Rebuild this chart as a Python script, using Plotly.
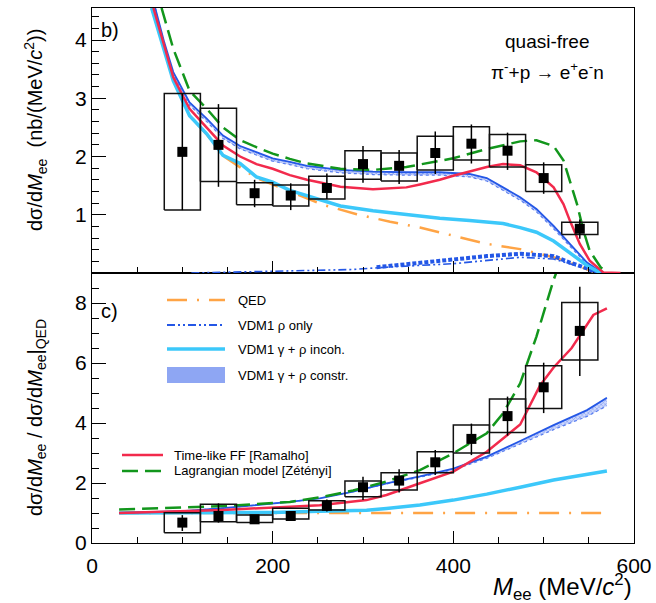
import plotly.graph_objects as go

# ---------------- data ----------------
bin_edges = [80, 120, 160, 200, 240, 280, 320, 360, 400, 440, 480, 520, 560]
centers = [100, 140, 180, 220, 260, 300, 340, 380, 420, 460, 500, 540]

# panel b) cross section (nb/(MeV/c2))
top_val = [2.08, 2.20, 1.37, 1.33, 1.46, 1.87, 1.84, 2.06, 2.22, 2.10, 1.63, 0.76]
top_err_hi = [3.08, 2.90, 1.60, 1.54, 1.71, 2.18, 2.11, 2.43, 2.55, 2.41, 1.90, 0.92]
top_err_lo = [1.08, 1.48, 1.13, 1.08, 1.27, 1.55, 1.53, 1.70, 1.88, 1.77, 1.36, 0.59]
top_box_hi = [3.08, 2.83, 1.55, 1.51, 1.66, 2.10, 2.06, 2.35, 2.51, 2.38, 1.86, 0.87]
top_box_lo = [1.08, 1.57, 1.17, 1.15, 1.27, 1.61, 1.58, 1.77, 1.94, 1.82, 1.40, 0.66]

# panel c) ratio to QED
rat_val = [0.68, 0.90, 0.79, 0.90, 1.24, 1.86, 2.08, 2.69, 3.47, 4.23, 5.19, 7.07]
rat_err_hi = [0.93, 1.32, 0.90, 0.98, 1.45, 2.21, 2.46, 3.10, 3.98, 4.88, 6.01, 8.54]
rat_err_lo = [0.40, 0.68, 0.66, 0.80, 1.05, 1.43, 1.68, 2.27, 2.93, 3.58, 4.33, 5.57]
rat_box_hi = [1.01, 1.29, 0.93, 1.16, 1.41, 2.07, 2.34, 3.04, 3.93, 4.80, 5.91, 8.02]
rat_box_lo = [0.34, 0.71, 0.68, 0.80, 1.10, 1.54, 1.77, 2.34, 3.00, 3.68, 4.48, 6.10]

# model curves, panel b)
qed_x = [66, 80, 90, 108, 127, 145, 182, 219, 256, 293, 330, 363, 400, 437, 474, 511, 529, 548, 555]
qed_y = [4.55, 3.85, 3.30, 2.70, 2.38, 2.01, 1.63, 1.40, 1.17, 1.01, 0.88, 0.78, 0.64, 0.50, 0.41, 0.27, 0.18, 0.07, 0.02]

rho_x = [110, 180, 252, 289, 326, 400, 474, 511, 548, 560]
rho_y = [0.00, 0.02, 0.05, 0.06, 0.10, 0.16, 0.27, 0.24, 0.07, 0.00]
rhob_x = [315, 363, 400, 437, 474, 511, 529, 548, 559]
rhob_y = [0.10, 0.18, 0.24, 0.29, 0.33, 0.29, 0.18, 0.08, 0.00]

inc_x = [66, 80, 90, 108, 127, 145, 164, 182, 200, 219, 238, 275, 311, 348, 385, 418, 455, 474, 492, 511, 529, 548, 563]
inc_y = [4.55, 3.85, 3.30, 2.70, 2.39, 2.02, 1.88, 1.65, 1.56, 1.42, 1.33, 1.15, 1.07, 1.00, 0.94, 0.90, 0.85, 0.78, 0.70, 0.55, 0.35, 0.13, 0.00]

con_x = [70, 80, 90, 108, 127, 145, 164, 182, 200, 219, 238, 275, 311, 348, 385, 418, 437, 455, 474, 492, 511, 529, 548, 565]
con_y = [4.55, 3.96, 3.45, 2.93, 2.65, 2.36, 2.18, 2.08, 1.97, 1.91, 1.84, 1.77, 1.74, 1.73, 1.73, 1.70, 1.63, 1.47, 1.30, 1.10, 0.81, 0.50, 0.18, 0.00]
con_w = [0.00, 0.04, 0.05, 0.05, 0.05, 0.05, 0.05, 0.05, 0.05, 0.05, 0.05, 0.05, 0.05, 0.05, 0.05, 0.05, 0.05, 0.05, 0.05, 0.05, 0.05, 0.04, 0.03, 0.00]

ram_x = [68, 80, 90, 108, 127, 145, 164, 182, 200, 219, 238, 275, 311, 348, 363, 385, 400, 437, 455, 474, 492, 511, 522, 529, 540, 551, 566, 585]
ram_y = [4.55, 3.90, 3.36, 2.82, 2.50, 2.19, 2.00, 1.87, 1.79, 1.68, 1.60, 1.48, 1.44, 1.47, 1.52, 1.60, 1.67, 1.82, 1.87, 1.85, 1.73, 1.47, 1.18, 0.90, 0.50, 0.21, 0.01, 0.00]

zet_x = [77, 90, 108, 127, 145, 164, 182, 200, 219, 238, 275, 311, 348, 385, 400, 437, 474, 492, 511, 522, 529, 537, 544, 551, 563, 570]
zet_y = [4.55, 3.85, 3.13, 2.82, 2.50, 2.28, 2.16, 2.05, 1.96, 1.88, 1.79, 1.77, 1.82, 1.93, 1.97, 2.13, 2.26, 2.28, 2.18, 1.93, 1.58, 1.18, 0.73, 0.38, 0.10, 0.01]

# model curves, panel c) (ratio)
rqed_x = [30, 570]
rqed_y = [1.0, 1.0]
rinc_x = [30, 200, 252, 304, 326, 363, 400, 437, 474, 511, 570]
rinc_y = [1.00, 1.02, 1.06, 1.09, 1.15, 1.27, 1.43, 1.63, 1.86, 2.10, 2.40]
rcon_x = [30, 100, 145, 219, 252, 289, 326, 363, 400, 437, 474, 511, 548, 570]
rcon_y = [1.00, 1.06, 1.16, 1.37, 1.49, 1.71, 1.99, 2.22, 2.48, 2.88, 3.40, 3.93, 4.43, 4.84]
rcon_w = [0.00, 0.00, 0.00, 0.00, 0.00, 0.00, 0.02, 0.03, 0.04, 0.06, 0.10, 0.15, 0.21, 0.27]
rram_x = [30, 145, 219, 252, 304, 326, 363, 400, 437, 474, 496, 511, 531, 548, 555, 570]
rram_y = [1.00, 1.10, 1.21, 1.26, 1.43, 1.60, 1.99, 2.38, 3.04, 3.95, 5.25, 5.85, 6.50, 7.30, 7.60, 7.82]
rzet_x = [30, 145, 219, 252, 289, 326, 363, 400, 437, 455, 474, 492, 511, 515]
rzet_y = [1.12, 1.23, 1.37, 1.52, 1.75, 2.05, 2.43, 2.99, 3.66, 4.32, 5.32, 6.88, 8.77, 9.10]

# ---------------- styles ----------------
C_QED = "#ffa445"
C_BLUE = "#2457e6"
C_LBLUE = "#3cc8fa"
C_RED = "#f22a4c"
C_GREEN = "#12961c"
D_QED = "20px,10px,2px,10px"
D_RHO = "8px,3px,2px,3px,2px,3px"
D_ZET = "16px,7px"
FONT = "Liberation Sans, Arial, Helvetica, sans-serif"

fig = go.Figure()


def boxes(lo_edges, hi_edges, lo, hi):
    xs, ys = [], []
    for a, b, l, h in zip(lo_edges, hi_edges, lo, hi):
        xs += [a, b, b, a, a, None]
        ys += [l, l, h, h, l, None]
    return xs, ys


def add_panel(xa, ya, curves, band, data):
    for (x, y, color, width, dash) in curves["below"]:
        fig.add_trace(go.Scatter(x=x, y=y, mode="lines", xaxis=xa, yaxis=ya,
                                 line=dict(color=color, width=width, dash=dash),
                                 showlegend=False, hoverinfo="skip"))
    bx, by, bw = band
    lo = [v - w for v, w in zip(by, bw)]
    fig.add_trace(go.Scatter(x=bx, y=lo, mode="lines", xaxis=xa, yaxis=ya,
                             line=dict(color="#5a7ff0", width=1.2, dash="dot"),
                             showlegend=False, hoverinfo="skip"))
    fig.add_trace(go.Scatter(x=bx, y=by, mode="lines", xaxis=xa, yaxis=ya, fill="tonexty",
                             fillcolor="rgba(120,150,245,0.45)",
                             fillpattern=dict(shape="x", fgcolor="#3d66e8", bgcolor="rgba(160,180,250,0.5)",
                                              size=3, solidity=0.4),
                             line=dict(color=C_BLUE, width=1.8),
                             showlegend=False, hoverinfo="skip"))
    for (x, y, color, width, dash) in curves["above"]:
        fig.add_trace(go.Scatter(x=x, y=y, mode="lines", xaxis=xa, yaxis=ya,
                                 line=dict(color=color, width=width, dash=dash),
                                 showlegend=False, hoverinfo="skip"))
    val, ehi, elo, bhi, blo = data
    xs, ys = boxes(bin_edges[:-1], bin_edges[1:], blo, bhi)
    fig.add_trace(go.Scatter(x=xs, y=ys, mode="lines", xaxis=xa, yaxis=ya,
                             line=dict(color="#111111", width=1.5), showlegend=False, hoverinfo="skip"))
    fig.add_trace(go.Scatter(
        x=centers, y=val, mode="markers", xaxis=xa, yaxis=ya,
        marker=dict(symbol="square", size=10, color="black"),
        error_y=dict(type="data", symmetric=False,
                     array=[h - v for h, v in zip(ehi, val)],
                     arrayminus=[v - l for l, v in zip(elo, val)],
                     color="black", thickness=1.5, width=0),
        showlegend=False, hoverinfo="skip"))


# panel b)
add_panel("x2", "y2",
          {"below": [(qed_x, qed_y, C_QED, 2.5, D_QED),
                     (rhob_x, rhob_y, C_BLUE, 4.0, "4px,2px"),
                     (rho_x, rho_y, C_BLUE, 1.6, D_RHO)],
           "above": [(inc_x, inc_y, C_LBLUE, 3.5, "solid"),
                     (ram_x, ram_y, C_RED, 2.5, "solid"),
                     (zet_x, zet_y, C_GREEN, 2.5, D_ZET)]},
          (con_x, con_y, con_w),
          (top_val, top_err_hi, top_err_lo, top_box_hi, top_box_lo))

# panel c)
add_panel("x", "y",
          {"below": [(rqed_x, rqed_y, C_QED, 2.5, D_QED),
                     (rinc_x, rinc_y, C_LBLUE, 3.5, "solid")],
           "above": [(rram_x, rram_y, C_RED, 2.5, "solid"),
                     (rzet_x, rzet_y, C_GREEN, 2.5, D_ZET)]},
          (rcon_x, rcon_y, rcon_w),
          (rat_val, rat_err_hi, rat_err_lo, rat_box_hi, rat_box_lo))

# ---------------- layout ----------------
W, H = 656, 603
L, R, T, B = 92, 22, 8, 60
PX0, PX1 = L, W - R          # 92 .. 634
PY0, PY1 = T, H - B          # 8 .. 543
PW, PH = PX1 - PX0, PY1 - PY0
split = (PY1 - 273) / PH


def px(xp):
    return (xp - PX0) / PW


def py(yp):
    return (PY1 - yp) / PH


axis_common = dict(showline=True, linecolor="black", linewidth=1.2, mirror=True,
                   showgrid=False, zeroline=False, ticks="inside", tickcolor="black",
                   tickwidth=1.2, tickfont=dict(family=FONT, size=21, color="black"))

fig.update_layout(
    width=W, height=H, margin=dict(l=L, r=R, t=T, b=B, autoexpand=False),
    paper_bgcolor="white", plot_bgcolor="white", showlegend=False,
    font=dict(family=FONT, color="black"),
    xaxis=dict(domain=[0, 1], anchor="y", range=[0, 600], tickvals=[0, 200, 400, 600],
               ticklen=12, ticklabelstandoff=4,
               minor=dict(dtick=50, tick0=0, ticks="inside", ticklen=6, tickcolor="black", tickwidth=1.2),
               **axis_common),
    yaxis=dict(domain=[0, split], anchor="x", range=[0, 9], tickvals=[0, 2, 4, 6, 8],
               ticklen=14,
               minor=dict(dtick=0.5, tick0=0, ticks="inside", ticklen=7, tickcolor="black", tickwidth=1.2),
               **axis_common),
    xaxis2=dict(domain=[0, 1], anchor="y2", matches="x", range=[0, 600], tickvals=[0, 200, 400, 600],
                showticklabels=False, ticklen=12,
                minor=dict(dtick=50, tick0=0, ticks="inside", ticklen=6, tickcolor="black", tickwidth=1.2),
                **axis_common),
    yaxis2=dict(domain=[split, 1], anchor="x2", range=[0, 4.55], tickvals=[1, 2, 3, 4],
                ticklen=14,
                minor=dict(dtick=0.2, tick0=0, ticks="inside", ticklen=7, tickcolor="black", tickwidth=1.2),
                **axis_common),
)

ann = []
shapes = []


def text(x, y, s, size, xanchor="left", angle=0):
    ann.append(dict(x=x, y=y, xref="paper", yref="paper", text=s, showarrow=False,
                    xanchor=xanchor, yanchor="middle", textangle=angle,
                    font=dict(family=FONT, size=size, color="black")))


# axis titles
text(px(36), py(130), "dσ/d<i>M</i><sub>ee</sub>  (nb/(MeV/<i>c</i><sup>2</sup>))", 20, "center", -90)
text(px(36), py(418), "dσ/d<i>M</i><sub>ee</sub> / dσ/d<i>M</i><sub>ee</sub>|<sub>QED</sub>", 20, "center", -90)
text(px(634), py(587), "<i>M</i><sub>ee</sub> (MeV/<i>c</i><sup>2</sup>)", 24, "right")
# panel labels
text(px(99), py(30), "b)", 20)
text(px(99), py(311), "c)", 20)
# reaction text
text(px(547), py(42), "quasi-free", 19, "center")
text(px(547), py(71), "π<sup>-</sup>+p → e<sup>+</sup>e<sup>-</sup>n", 19, "center")

# manual legend (layout decoration)
leg1 = [("QED", C_QED, 2.5, D_QED, 300),
        ("VDM1 ρ only", C_BLUE, 2.0, D_RHO, 325),
        ("VDM1 γ + ρ incoh.", C_LBLUE, 3.5, "solid", 349)]
for label, color, wd, dash, yy in leg1:
    shapes.append(dict(type="line", xref="paper", yref="paper", x0=px(167), x1=px(225),
                       y0=py(yy), y1=py(yy), line=dict(color=color, width=wd, dash=dash)))
    text(px(236), py(yy), label, 13)
shapes.append(dict(type="rect", xref="paper", yref="paper", x0=px(167), x1=px(225),
                   y0=py(383), y1=py(367), fillcolor="#8ea6f3", line=dict(width=0)))
text(px(236), py(375), "VDM1 γ + ρ constr.", 13)

leg2 = [("Time-like FF [Ramalho]", C_RED, 2.5, "solid", 455),
        ("Lagrangian model [Zétényi]", C_GREEN, 2.5, D_ZET, 471)]
for label, color, wd, dash, yy in leg2:
    shapes.append(dict(type="line", xref="paper", yref="paper", x0=px(122), x1=px(163),
                       y0=py(yy), y1=py(yy), line=dict(color=color, width=wd, dash=dash)))
    text(px(172), py(yy), label, 13)

fig.update_layout(annotations=ann, shapes=shapes)

# remove the default 8px page margin so the figure fills the 656x603 window exactly
fig.write_html("out.html",
               config={"displayModeBar": False},
               post_script="document.body.style.margin='0px';"
                           "document.documentElement.style.overflow='hidden';")
